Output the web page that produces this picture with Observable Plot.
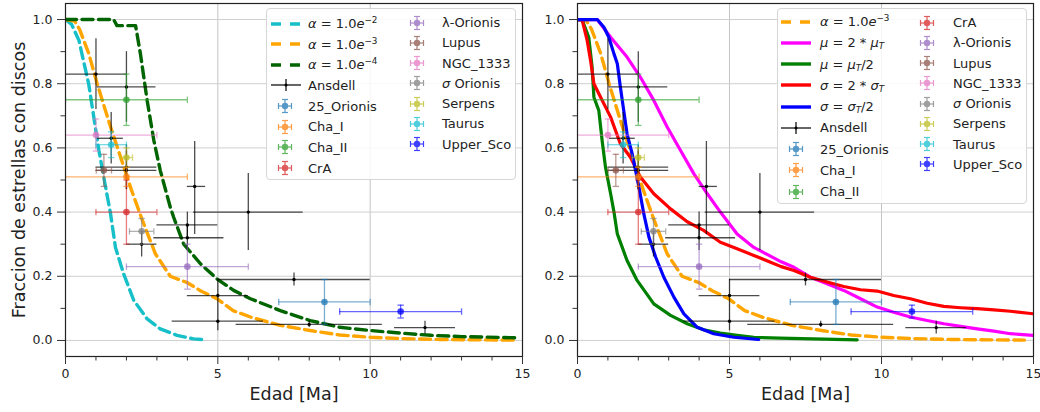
<!DOCTYPE html>
<html><head><meta charset="utf-8">
<script src="https://cdn.jsdelivr.net/npm/d3@7"></script>
<script src="https://cdn.jsdelivr.net/npm/@observablehq/plot@0.6"></script>
<style>
html,body{margin:0;padding:0;background:#fff;}
#wrap{position:relative;width:1040px;height:412px;overflow:hidden;font-family:"DejaVu Sans",sans-serif;color:#222;}
.pan{position:absolute;top:0;}
.legend{position:absolute;background:rgba(255,255,255,0.85);border:1px solid #d6d6d6;border-radius:4px;box-sizing:border-box;}
.item{position:absolute;height:20px;display:flex;align-items:center;font-size:13px;white-space:nowrap;}
.item svg{display:block;}
sup{font-size:0.68em;vertical-align:0.6em;line-height:0;}
sub{font-size:0.68em;vertical-align:-0.25em;line-height:0;}
</style></head><body>
<div id="wrap"></div>
<script>
// ---------- DATA ----------
const xTicks = [0, 5, 10, 15];
const xMinor = [1, 2, 3, 4, 6, 7, 8, 9, 11, 12, 13, 14];
const yTicks = [0, 0.2, 0.4, 0.6, 0.8, 1.0];
const yMinor = [0.1, 0.3, 0.5, 0.7, 0.9];

// model curves (left panel)
const alpha2X = [0, 0.2, 0.44, 0.76, 1.1, 1.37, 1.47, 1.64, 1.91, 2.24, 2.68, 3.11, 3.66, 4.2, 4.64];
const alpha2Y = [1.0, 0.985, 0.935, 0.8, 0.59, 0.45, 0.40, 0.29, 0.207, 0.125, 0.067, 0.036, 0.016, 0.005, 0.002];
const alpha3X = [0, 0.3, 0.46, 0.76, 1.04, 1.48, 1.83, 2.16, 2.54, 2.95, 3.44, 4.0, 4.43, 4.97, 5.5, 6.1, 7.05, 8.03, 9.0, 10.0, 11.0, 12.3, 14.7];
const alpha3Y = [1.0, 0.995, 0.97, 0.895, 0.80, 0.665, 0.565, 0.47, 0.37, 0.27, 0.20, 0.18, 0.155, 0.13, 0.093, 0.072, 0.047, 0.031, 0.017, 0.01, 0.006, 0.003, 0.001];
const alpha4X = [0, 1.58, 1.69, 2.3, 2.46, 2.68, 2.9, 3.11, 3.44, 3.55, 3.88, 4.43, 4.97, 5.52, 6.07, 7.05, 8.03, 9.0, 10.0, 11.0, 12.0, 13.0, 14.9];
const alpha4Y = [1.0, 1.0, 0.981, 0.981, 0.893, 0.748, 0.623, 0.53, 0.415, 0.384, 0.30, 0.239, 0.192, 0.156, 0.13, 0.093, 0.062, 0.041, 0.031, 0.023, 0.016, 0.012, 0.008];

// model curves (right panel)
const mu2X = [0, 0.65, 1.09, 1.63, 2.07, 2.51, 2.95, 3.39, 3.83, 4.27, 4.7, 5.25, 5.8, 6.3, 6.7, 7.12, 7.66, 8.21, 8.76, 9.31, 9.86, 10.4, 10.95, 11.5, 12.05, 12.6, 13.15, 13.7, 14.24, 15.0];
const mu2Y = [1.0, 1.0, 0.945, 0.883, 0.82, 0.748, 0.665, 0.592, 0.519, 0.457, 0.40, 0.332, 0.29, 0.265, 0.245, 0.228, 0.197, 0.177, 0.156, 0.13, 0.104, 0.088, 0.073, 0.062, 0.052, 0.044, 0.036, 0.029, 0.021, 0.016];
const muHalfX = [0, 0.15, 0.37, 0.48, 0.54, 0.7, 0.81, 0.92, 1.09, 1.2, 1.31, 1.63, 1.96, 2.51, 3.06, 3.61, 4.15, 4.7, 5.25, 5.8, 6.65, 9.2];
const muHalfY = [1.0, 1.0, 0.945, 0.852, 0.758, 0.717, 0.623, 0.54, 0.457, 0.40, 0.332, 0.249, 0.187, 0.114, 0.078, 0.052, 0.033, 0.023, 0.016, 0.01, 0.007, 0.002];
const sig2X = [0, 0.15, 0.32, 0.43, 0.54, 0.76, 1.09, 1.41, 1.74, 2.07, 2.51, 3.06, 3.61, 4.15, 4.7, 5.25, 5.8, 6.35, 6.7, 7.12, 7.66, 8.21, 8.76, 9.31, 9.86, 10.4, 10.95, 11.5, 12.05, 12.6, 13.15, 13.7, 14.24, 15.0];
const sig2Y = [1.0, 1.0, 0.934, 0.872, 0.80, 0.758, 0.696, 0.613, 0.571, 0.509, 0.457, 0.41, 0.37, 0.343, 0.306, 0.286, 0.265, 0.244, 0.23, 0.218, 0.197, 0.182, 0.168, 0.158, 0.154, 0.14, 0.13, 0.116, 0.106, 0.102, 0.099, 0.095, 0.091, 0.083];
const sigHalfX = [0, 0.65, 0.87, 1.03, 1.2, 1.31, 1.41, 1.52, 1.63, 1.8, 1.91, 2.02, 2.18, 2.35, 2.57, 2.84, 3.17, 3.5, 3.94, 4.48, 5.14, 5.96];
const sigHalfY = [1.0, 1.0, 0.976, 0.945, 0.893, 0.862, 0.79, 0.717, 0.644, 0.581, 0.53, 0.478, 0.395, 0.322, 0.26, 0.197, 0.135, 0.083, 0.041, 0.021, 0.01, 0.003];

// Ansdell observations
const ansX   = [1.0, 2.0, 1.5, 2.0, 2.0, 4.24, 6.0, 4.0, 4.0, 2.5, 5.0, 5.0, 7.5, 8.0, 11.8];
const ansXLo = [0.0, 1.04, 1.05, 1.0, 1.0, 4.0, 4.2, 3.0, 2.9, 2.0, 4.0, 3.5, 5.0, 5.6, 10.8];
const ansXHi = [2.0, 2.97, 1.9, 3.0, 3.0, 4.6, 7.8, 5.0, 5.2, 3.0, 6.0, 6.5, 10.0, 10.4, 12.8];
const ansY   = [0.83, 0.79, 0.63, 0.54, 0.53, 0.48, 0.40, 0.36, 0.32, 0.30, 0.14, 0.06, 0.19, 0.05, 0.04];
const ansYLo = [0.72, 0.68, 0.55, 0.47, 0.47, 0.33, 0.28, 0.32, 0.28, 0.26, 0.09, 0.03, 0.17, 0.04, 0.02];
const ansYHi = [0.94, 0.90, 0.71, 0.61, 0.59, 0.62, 0.52, 0.40, 0.36, 0.34, 0.19, 0.09, 0.21, 0.06, 0.06];

// star-forming regions
const regNames  = ["25_Orionis", "Cha_I", "Cha_II", "CrA", "λ-Orionis", "Lupus", "NGC_1333", "σ Orionis", "Serpens", "Taurus", "Upper_Sco"];
const regColors = ["#1f77b4", "#ff7f0e", "#2ca02c", "#d62728", "#9467bd", "#8c564b", "#e377c2", "#7f7f7f", "#bcbd22", "#17becf", "#0000ff"];
const regX    = [8.5, 2.0, 2.0, 2.0, 4.0, 1.26, 1.0, 2.5, 2.0, 1.5, 11.0];
const regXErr = [1.5, 2.0, 2.0, 1.0, 2.0, 0.25, 2.0, 0.4, 0.2, 0.5, 2.0];
const regY    = [0.12, 0.51, 0.75, 0.40, 0.23, 0.53, 0.64, 0.34, 0.57, 0.61, 0.09];
const regYErr = [0.07, 0.03, 0.08, 0.10, 0.07, 0.05, 0.05, 0.04, 0.03, 0.04, 0.02];

// ---------- BUILD ----------
const ans = ansX.map((x, i) => ({x, xlo: ansXLo[i], xhi: ansXHi[i], y: ansY[i], ylo: ansYLo[i], yhi: ansYHi[i]}));
const regs = regX.map((x, i) => ({name: regNames[i], color: regColors[i], x, xlo: x - regXErr[i], xhi: x + regXErr[i], y: regY[i], ylo: regY[i] - regYErr[i], yhi: regY[i] + regYErr[i]}));
const pts = (xs, ys) => xs.map((x, i) => ({x, y: ys[i]}));

const vcap = {draw(ctx, size) { const r = Math.sqrt(size / Math.PI); ctx.moveTo(0, -r); ctx.lineTo(0, r); }};
const hcap = {draw(ctx, size) { const r = Math.sqrt(size / Math.PI); ctx.moveTo(-r, 0); ctx.lineTo(r, 0); }};

const leftCurves = [
  {x: alpha2X, y: alpha2Y, color: "#17bfc8", dash: true},
  {x: alpha3X, y: alpha3Y, color: "#ffa500", dash: true},
  {x: alpha4X, y: alpha4Y, color: "#006400", dash: true}
];
const rightCurves = [
  {x: alpha3X, y: alpha3Y, color: "#ffa500", dash: true},
  {x: mu2X, y: mu2Y, color: "#ff00ff"},
  {x: muHalfX, y: muHalfY, color: "#008000"},
  {x: sig2X, y: sig2Y, color: "#ff0000"},
  {x: sigHalfX, y: sigHalfY, color: "#0000ff"}
];

function panel(curves, width, ml, mr, ylabel) {
  const marks = [
    Plot.gridX(xTicks.slice(1, 3), {stroke: "#c4c4c4", strokeOpacity: 1, strokeWidth: 1}),
    Plot.gridY(yTicks, {stroke: "#d0d0d0", strokeOpacity: 1, strokeWidth: 1})
  ];
  for (const c of curves) {
    marks.push(Plot.line(pts(c.x, c.y), {x: "x", y: "y", stroke: c.color, strokeWidth: c.dash ? 3.4 : 3.2,
      strokeDasharray: c.dash ? "11,5.5" : null, strokeLinejoin: "round", clip: true}));
  }
  // Ansdell
  marks.push(Plot.ruleY(ans, {y: "y", x1: "xlo", x2: "xhi", stroke: "#000", strokeOpacity: 0.7, strokeWidth: 1.3, clip: true}));
  marks.push(Plot.ruleX(ans, {x: "x", y1: "ylo", y2: "yhi", stroke: "#000", strokeOpacity: 0.7, strokeWidth: 1.3, clip: true}));
  marks.push(Plot.dot(ans, {x: "x", y: "y", r: 1.7, fill: "#000", stroke: null}));
  // regions
  const eo = 0.6;
  marks.push(Plot.ruleY(regs, {y: "y", x1: "xlo", x2: "xhi", stroke: "color", strokeOpacity: eo, strokeWidth: 1.3, clip: true}));
  marks.push(Plot.ruleX(regs, {x: "x", y1: "ylo", y2: "yhi", stroke: "color", strokeOpacity: eo, strokeWidth: 1.3, clip: true}));
  for (const k of ["xlo", "xhi"]) marks.push(Plot.dot(regs, {x: k, y: "y", symbol: vcap, r: 3.2, fill: "none", stroke: "color", strokeOpacity: eo, strokeWidth: 1.3, clip: true}));
  for (const k of ["ylo", "yhi"]) marks.push(Plot.dot(regs, {x: "x", y: k, symbol: hcap, r: 3.2, fill: "none", stroke: "color", strokeOpacity: eo, strokeWidth: 1.3, clip: true}));
  marks.push(Plot.dot(regs, {x: "x", y: "y", r: 3.3, fill: "color", fillOpacity: 0.75, stroke: null}));
  // frame & axes
  marks.push(Plot.frame({stroke: "#222", strokeWidth: 1.2}));
  marks.push(Plot.axisX(xTicks, {tickSize: 8, tickPadding: 5, tickFormat: d => String(d), fontSize: 12.5, fill: "#222", stroke: "#333", label: null}));
  marks.push(Plot.axisX(xMinor, {tickSize: 4.5, tickFormat: () => "", stroke: "#333", label: null}));
  marks.push(Plot.axisY(yTicks, {tickSize: 8, tickPadding: 5, tickFormat: d3.format(".1f"), fontSize: 12.5, fill: "#222", stroke: "#333", label: null}));
  marks.push(Plot.axisY(yMinor, {tickSize: 4.5, tickFormat: () => "", stroke: "#333", label: null}));
  marks.push(Plot.text(["Edad [Ma]"], {frameAnchor: "bottom", textAnchor: "middle", dy: 43, fontSize: 17.5, fill: "#222"}));
  if (ylabel) marks.push(Plot.text([ylabel], {frameAnchor: "left", textAnchor: "middle", dx: -46, rotate: -90, fontSize: 17.5, fill: "#222"}));
  return Plot.plot({
    width, height: 412, marginLeft: ml, marginRight: mr, marginTop: 3, marginBottom: 56,
    x: {domain: [0, 15]}, y: {domain: [-0.05, 1.05]},
    color: {type: "identity"},
    style: {fontFamily: "DejaVu Sans", background: "transparent", overflow: "visible"},
    marks
  });
}

const wrap = document.getElementById("wrap");
const lp = document.createElement("div"); lp.className = "pan"; lp.style.left = "0px"; lp.style.width = "530px";
lp.appendChild(panel(leftCurves, 530, 65, 8, "Fraccion de estrellas con discos"));
const rp = document.createElement("div"); rp.className = "pan"; rp.style.left = "520px"; rp.style.width = "520px";
rp.appendChild(panel(rightCurves, 520, 57, 7, null));
wrap.appendChild(lp); wrap.appendChild(rp);

// ---------- LEGENDS ----------
function lineHandle(color, dash) {
  return `<svg width="30" height="10"><line x1="0" y1="5" x2="30" y2="5" stroke="${color}" stroke-width="3.4" ${dash ? 'stroke-dasharray="10,9"' : ''}/></svg>`;
}
function ansHandle() {
  return `<svg width="30" height="14"><line x1="0" y1="7" x2="30" y2="7" stroke="#000" stroke-width="1.2"/><line x1="15" y1="1" x2="15" y2="13" stroke="#000" stroke-width="1.2"/><circle cx="15" cy="7" r="1.5" fill="#000"/></svg>`;
}
function ebHandle(color) {
  return `<svg width="16" height="16" style="opacity:0.75"><g stroke="${color}" stroke-width="1.2"><line x1="1.5" y1="8" x2="14.5" y2="8"/><line x1="8" y1="1.5" x2="8" y2="14.5"/><line x1="1.5" y1="5" x2="1.5" y2="11"/><line x1="14.5" y1="5" x2="14.5" y2="11"/><line x1="5" y1="1.5" x2="11" y2="1.5"/><line x1="5" y1="14.5" x2="11" y2="14.5"/></g><circle cx="8" cy="8" r="3.2" fill="${color}"/></svg>`;
}
function regLabel(n) { return n.replace("σ", "<i>σ</i>"); }
const alphaLabel = p => `<i>α</i> = 1.0<i>e</i><sup>−${p}</sup>`;
const regItems = regNames.map((n, i) => ({html: ebHandle(regColors[i]), label: regLabel(n), eb: true}));
const ansItem = {html: ansHandle(), label: "Ansdell"};

function legend(left, top, w, h, col1, col2, c1, c2) {
  const box = document.createElement("div");
  box.className = "legend";
  Object.assign(box.style, {left: left + "px", top: top + "px", width: w + "px", height: h + "px"});
  const place = (items, col) => items.forEach((it, i) => {
    const d = document.createElement("div");
    d.className = "item";
    const cy = col.start + i * col.step;
    d.style.top = (cy - 10) + "px";
    if (it.eb) {
      d.style.left = (col.hx - 8) + "px";
      d.innerHTML = `<span style="display:inline-block;width:${col.tx - col.hx + 8}px">${it.html}</span><span>${it.label}</span>`;
    } else {
      d.style.left = col.hl + "px";
      d.innerHTML = `<span style="display:inline-block;width:${col.tx - col.hl}px">${it.html}</span><span>${it.label}</span>`;
    }
    box.appendChild(d);
  });
  place(col1, c1); place(col2, c2);
  wrap.appendChild(box);
}

legend(266, 8, 250, 172,
  [{html: lineHandle("#17bfc8", true), label: alphaLabel(2)},
   {html: lineHandle("#ffa500", true), label: alphaLabel(3)},
   {html: lineHandle("#006400", true), label: alphaLabel(4)},
   ansItem, ...regItems.slice(0, 4)],
  regItems.slice(4),
  {start: 14.5, step: 20.66, hl: 4, hx: 18, tx: 41},
  {start: 13.5, step: 20.27, hl: 4, hx: 150, tx: 175});

legend(777, 8, 250, 196,
  [{html: lineHandle("#ffa500", true), label: alphaLabel(3)},
   {html: lineHandle("#ff00ff", false), label: `<i>μ</i> = 2 * <i>μ<sub>T</sub></i>`},
   {html: lineHandle("#008000", false), label: `<i>μ</i> = <i>μ<sub>T</sub></i>/2`},
   {html: lineHandle("#ff0000", false), label: `<i>σ</i> = 2 * <i>σ<sub>T</sub></i>`},
   {html: lineHandle("#0000ff", false), label: `<i>σ</i> = <i>σ<sub>T</sub></i>/2`},
   ansItem, ...regItems.slice(0, 3)],
  regItems.slice(3),
  {start: 12.7, step: 21.25, hl: 3, hx: 18, tx: 42},
  {start: 13.7, step: 20.23, hl: 3, hx: 149, tx: 175});
</script>
</body></html>
